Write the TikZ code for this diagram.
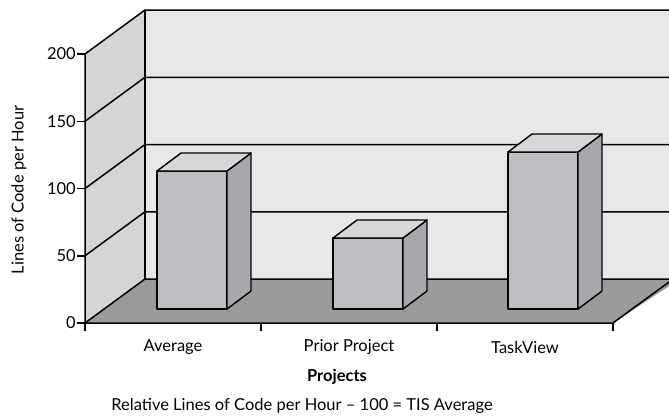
\documentclass[tikz,border=0pt]{standalone}
\usepackage{fontspec}
\setmainfont{Lato}
\usepackage{tikz}

\definecolor{wallback}{HTML}{E6E7E9}
\definecolor{wallside}{HTML}{D5D5D5}
\definecolor{floorgray}{HTML}{999A9C}
\definecolor{barfront}{HTML}{BDBEC1}
\definecolor{barside}{HTML}{A7A8AB}
\definecolor{bartop}{HTML}{D6D7D9}

\newcommand*{\xfront}{85}
\newcommand*{\xback}{145}
\newcommand*{\yzero}{323}
\newcommand*{\ystep}{67.25}
\newcommand*{\dep}{44}

\begin{document}
\begin{tikzpicture}
[
	x=1pt,y=-1pt,
	edge/.style={black,line width=1.5pt,line join=round},
	barface/.style={edge,line width=1.4pt},
	ticklabel/.style={anchor=east,inner sep=1pt,font=\fontsize{16.5}{16.5}\selectfont},
	catlabel/.style={font=\fontsize{16.5}{16.5}\selectfont}
]
	\useasboundingbox (0,0) rectangle (669,418);
	\begin{scope}
	\clip (0,0) rectangle (669,418);

	% walls
	\fill[wallback] (\xback,10) rectangle (680,279);
	\fill[wallside] (\xfront,54) -- (\xback,10) -- (\xback,279) -- (\xfront,\yzero) -- cycle;
	\fill[floorgray] (\xfront,\yzero) -- (\xback,279) -- (680,279) -- (613,\yzero) -- cycle;

	% grid
	\foreach \k in {0,1,...,4} {
		\draw[edge] (\xfront,{\yzero-\k*\ystep}) -- (\xback,{\yzero-\k*\ystep-\dep}) -- (680,{\yzero-\k*\ystep-\dep});
		\draw[edge] (\xfront-8,{\yzero-\k*\ystep}) -- (\xfront,{\yzero-\k*\ystep});
		\node[ticklabel] at (\xfront-8,{\yzero-\k*\ystep}) {\pgfmathparse{int(\k*50)}\pgfmathresult};
	}
	\draw[edge] (\xback,10) -- (\xback,279);

	% axes
	\draw[edge] (\xfront,54) -- (\xfront,\yzero) -- (613,\yzero) -- (680,274);
	\foreach \x in {85,261,437,613} {
		\draw[edge] (\x,\yzero) -- (\x,331);
	}
	\end{scope}

	% bars
	\foreach \x/\h in {157/171,333/238,508/152} {
		\draw[barface,fill=barfront] (\x,309) rectangle (\x+70,\h);
		\draw[barface,fill=barside] (\x+70,309) -- (\x+94,291) -- (\x+94,\h-18) -- (\x+70,\h) -- cycle;
		\draw[barface,fill=bartop] (\x,\h) -- (\x+24,\h-18) -- (\x+94,\h-18) -- (\x+70,\h) -- cycle;
	}

	% labels
	\node[catlabel] (avg) at (173,347) {Average};
	\node[catlabel] (prior) at (349,347) {Prior Project};
	\node[catlabel] (task) at (525,347) {TaskView};
	\node[font=\fontsize{16.5}{16.5}\selectfont\bfseries] (proj) at (337,377) {Projects};
	\node[catlabel] (caption) at (302,406) {Relative Lines of Code per Hour -- 100 = TIS Average};
	\node[catlabel,rotate=90] (ylab) at (19,190) {Lines of Code per Hour};

\end{tikzpicture}
\end{document}
